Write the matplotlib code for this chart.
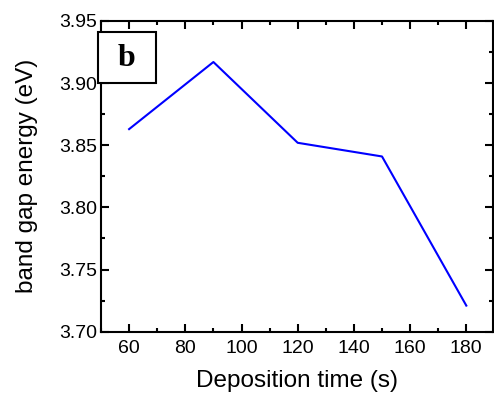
import matplotlib
matplotlib.use('Agg')
import matplotlib.pyplot as plt
from matplotlib.ticker import MultipleLocator, FormatStrFormatter
from matplotlib.patches import Rectangle

# deposition time (s) vs band gap energy (eV)
time_s = [60, 90, 120, 150, 180]
band_gap = [3.863, 3.917, 3.852, 3.841, 3.721]

plt.rcParams['font.family'] = ['Liberation Sans', 'DejaVu Sans']

fig = plt.figure(figsize=(4.94, 3.94), dpi=100)
ax = fig.add_axes([101 / 494, 1 - 331.7 / 394, (493 - 101) / 494, (331.7 - 21) / 394])

ax.plot(time_s, band_gap, color='#0000ff', lw=1.5)

ax.set_xlim(50, 189.5)
ax.set_ylim(3.70, 3.95)
ax.xaxis.set_major_locator(MultipleLocator(20))
ax.xaxis.set_minor_locator(MultipleLocator(10))
ax.yaxis.set_major_locator(MultipleLocator(0.05))
ax.yaxis.set_minor_locator(MultipleLocator(0.025))
ax.yaxis.set_major_formatter(FormatStrFormatter('%.2f'))
ax.tick_params(which='both', direction='in', top=True, right=True, width=1.5, labelsize=14)
ax.tick_params(which='major', length=6)
ax.tick_params(which='minor', length=3)
ax.tick_params(axis='x', pad=6)
ax.tick_params(axis='y', pad=3)
for s in ax.spines.values():
    s.set_linewidth(1.5)

ax.set_xlabel('Deposition time (s)', fontsize=17.5, labelpad=9)
ax.set_ylabel('band gap energy (eV)', fontsize=17.5, labelpad=15)

# panel label box
fig.patches.append(Rectangle((98 / 494, 1 - 83 / 394), 58 / 494, 51 / 394,
                             transform=fig.transFigure, fc='white', ec='black', lw=1.5, zorder=5))
fig.text(127 / 494, 1 - 59 / 394, 'b', fontsize=23, fontweight='bold',
         family='Liberation Serif', ha='center', va='center', zorder=6)

fig.savefig('out.png', dpi=100)
